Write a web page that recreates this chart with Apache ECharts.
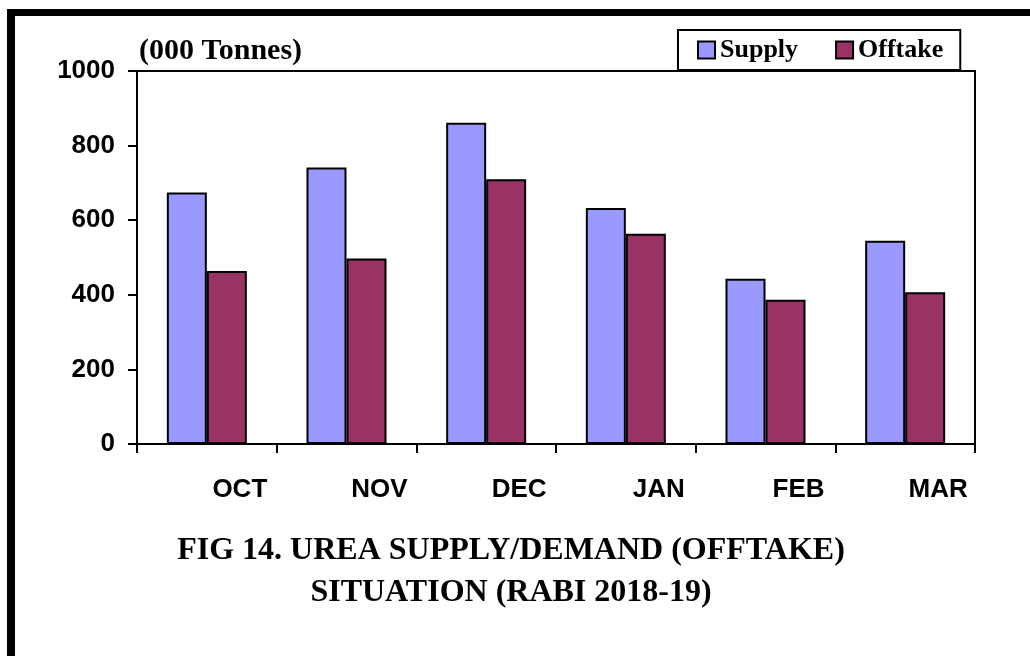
<!DOCTYPE html>
<html>
<head>
<meta charset="utf-8">
<script src="https://cdn.jsdelivr.net/npm/echarts@6/dist/echarts.min.js"></script>
<style>
html,body{margin:0;padding:0;background:#fff;}
#main{width:1030px;height:656px;}
</style>
</head>
<body>
<div id="main"></div>
<script>
var categories = ['OCT', 'NOV', 'DEC', 'JAN', 'FEB', 'MAR'];
var supply = [674, 741, 861, 633, 443, 545];
var offtake = [464, 497, 710, 564, 387, 407];
var yTicks = [0, 200, 400, 600, 800, 1000];

var chart = echarts.init(document.getElementById('main'), null, {renderer: 'canvas'});
var sans = 'Liberation Sans, Arial, sans-serif';
var serif = 'Liberation Serif, Times New Roman, serif';

chart.setOption({
  animation: false,
  backgroundColor: '#fff',
  graphic: [
    {type: 'rect', shape: {x: 7, y: 9, width: 8, height: 647}, style: {fill: '#000'}},
    {type: 'rect', shape: {x: 7, y: 9, width: 1023, height: 7}, style: {fill: '#000'}}
  ],
  title: [
    {
      text: '(000 Tonnes)',
      left: 139, top: 36,
      padding: 0,
      textStyle: {fontFamily: serif, fontWeight: 'bold', fontSize: 30, color: '#000'}
    },
    {
      text: 'FIG 14. UREA SUPPLY/DEMAND (OFFTAKE)\nSITUATION (RABI 2018-19)',
      left: 511, top: 530,
      textAlign: 'center',
      padding: 0,
      textStyle: {fontFamily: serif, fontWeight: 'bold', fontSize: 32, lineHeight: 42, color: '#000'}
    }
  ],
  legend: {
    left: 678, top: 30,
    padding: [7, 17, 7, 19],
    backgroundColor: '#fff',
    borderColor: '#000',
    borderWidth: 2,
    itemWidth: 17, itemHeight: 17,
    itemGap: 37,
    icon: 'rect',
    z: 10,
    textStyle: {fontFamily: serif, fontWeight: 'bold', fontSize: 26, color: '#000'},
    data: ['Supply', 'Offtake']
  },
  grid: {
    left: 137, top: 71, right: 55, bottom: 212,
    show: true, borderColor: '#000', borderWidth: 2
  },
  xAxis: {
    type: 'category',
    data: categories,
    axisLine: {lineStyle: {color: '#000', width: 2}},
    axisTick: {show: true, length: 9, interval: 0, lineStyle: {color: '#000', width: 2}},
    axisLabel: {
      margin: 33, interval: 0,
      padding: [0, 0, 0, 66],
      fontFamily: sans, fontWeight: 'bold', fontSize: 26, color: '#000'
    }
  },
  yAxis: {
    type: 'value',
    min: yTicks[0], max: yTicks[yTicks.length - 1], interval: 200,
    splitLine: {show: false},
    axisLine: {show: true, lineStyle: {color: '#000', width: 2}},
    axisTick: {show: true, length: 9, lineStyle: {color: '#000', width: 2}},
    axisLabel: {
      margin: 22, fontFamily: sans, fontWeight: 'bold', fontSize: 26, color: '#000',
      formatter: function (v) { return String(v); }
    }
  },
  series: [
    {
      name: 'Supply', type: 'bar', data: supply,
      barWidth: 40, barGap: '0%',
      itemStyle: {color: '#9999FF', borderColor: '#000', borderWidth: 2}
    },
    {
      name: 'Offtake', type: 'bar', data: offtake,
      barWidth: 40, barGap: '0%',
      itemStyle: {color: '#993366', borderColor: '#000', borderWidth: 2}
    }
  ]
});
</script>
</body>
</html>
